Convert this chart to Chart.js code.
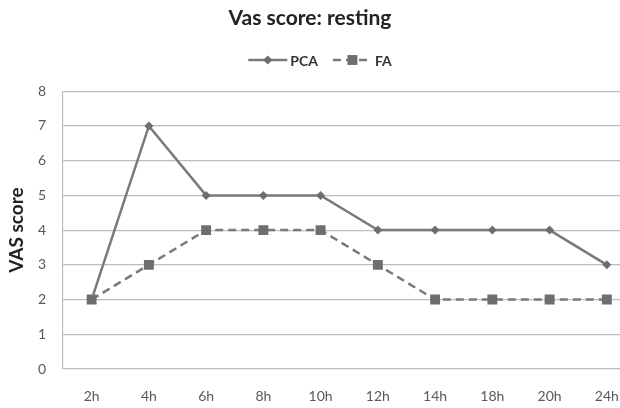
<!DOCTYPE html>
<html>
<head>
<meta charset="utf-8">
<script src="https://cdn.jsdelivr.net/npm/chart.js@4"></script>
<style>
  html, body { margin: 0; padding: 0; background: #fff; overflow: hidden; }
</style>
</head>
<body>
<canvas id="vas-chart" width="620" height="408"></canvas>
<script>
const timePoints = ['2h', '4h', '6h', '8h', '10h', '12h', '14h', '18h', '20h', '24h'];
const pcaScores = [2, 7, 5, 5, 5, 4, 4, 4, 4, 3];
const faScores = [2, 3, 4, 4, 4, 3, 2, 2, 2, 2];
const seriesNames = ['PCA', 'FA'];
const yRange = [0, 8];

const FONT = 'Lato, "Open Sans", sans-serif';

function toPoints(values) {
  return values.map((v, i) => ({ x: i, y: v }));
}

// legenda desenhada a mao: linha + marcador + nome
const lineLegend = {
  id: 'lineLegend',
  afterDraw(chart) {
    const ctx = chart.ctx;
    const y = 60;
    const sample = 39;
    ctx.save();
    ctx.font = 'bold 14px ' + FONT;
    let total = 0;
    chart.data.datasets.forEach(ds => { total += sample + 3 + ctx.measureText(ds.label).width; });
    total += 15 * (chart.data.datasets.length - 1);
    let x = 320 - total / 2;
    chart.data.datasets.forEach(ds => {
      ctx.strokeStyle = ds.borderColor;
      ctx.lineWidth = ds.borderWidth;
      ctx.setLineDash(ds.borderDash || []);
      ctx.beginPath();
      ctx.moveTo(x, y);
      ctx.lineTo(x + sample, y);
      ctx.stroke();
      ctx.setLineDash([]);
      ctx.fillStyle = ds.pointBackgroundColor;
      const cx = x + sample / 2;
      const r = ds.pointRadius;
      ctx.beginPath();
      if (ds.pointStyle === 'rectRot') {
        ctx.moveTo(cx, y - r);
        ctx.lineTo(cx + r, y);
        ctx.lineTo(cx, y + r);
        ctx.lineTo(cx - r, y);
      } else {
        const s = r * Math.SQRT1_2;
        ctx.rect(cx - s, y - s, 2 * s, 2 * s);
      }
      ctx.closePath();
      ctx.fill();
      x += sample + 3;
      ctx.fillStyle = '#333333';
      ctx.textBaseline = 'middle';
      ctx.textAlign = 'left';
      ctx.fillText(ds.label, x, y + 1);
      x += ctx.measureText(ds.label).width + 15;
    });
    ctx.restore();
  }
};

new Chart(document.getElementById('vas-chart'), {
  type: 'line',
  data: {
    datasets: [{
      label: seriesNames[0],
      data: toPoints(pcaScores),
      borderColor: '#7a7a7a',
      borderWidth: 2.5,
      pointStyle: 'rectRot',
      pointRadius: 4.5,
      pointBackgroundColor: '#6e6e6e',
      pointBorderColor: '#6e6e6e',
      pointBorderWidth: 0,
      tension: 0
    }, {
      label: seriesNames[1],
      data: toPoints(faScores),
      borderColor: '#7a7a7a',
      borderWidth: 2.5,
      borderDash: [8, 5],
      pointStyle: 'rect',
      pointRadius: 7,
      pointBackgroundColor: '#6e6e6e',
      pointBorderColor: '#6e6e6e',
      pointBorderWidth: 0,
      tension: 0
    }]
  },
  options: {
    responsive: false,
    animation: false,
    layout: { autoPadding: false, padding: 0 },
    plugins: {
      legend: { display: false },
      tooltip: { enabled: false },
      title: {
        display: true,
        text: 'Vas score: resting',
        color: '#222222',
        font: { family: FONT, size: 21, weight: 'bold' },
        padding: { top: 6, bottom: 60 }
      }
    },
    scales: {
      x: {
        type: 'linear',
        min: -0.5,
        max: 9.23,
        afterBuildTicks: scale => {
          scale.ticks = timePoints.map((t, i) => ({ value: i }));
        },
        afterFit: scale => {
          scale.height = 39;
          scale.paddingLeft = 0;
          scale.paddingRight = 0;
        },
        grid: { display: false, drawTicks: false },
        border: { display: false },
        ticks: {
          autoSkip: false,
          maxRotation: 0,
          padding: 19,
          color: '#595959',
          font: { family: FONT, size: 14 },
          callback: value => timePoints[value]
        }
      },
      y: {
        min: yRange[0],
        max: yRange[1],
        afterFit: scale => { scale.width = 63; },
        grid: { color: '#bdbdbd', lineWidth: 1.2, drawTicks: false },
        border: { display: true, color: '#bdbdbd', width: 1.2 },
        ticks: {
          stepSize: 1,
          padding: 17,
          color: '#595959',
          font: { family: FONT, size: 14 }
        },
        title: {
          display: true,
          text: 'VAS score',
          color: '#222222',
          font: { family: FONT, size: 19, weight: 'bold' },
          padding: { top: 5, bottom: 0 }
        }
      }
    }
  },
  plugins: [lineLegend]
});
</script>
</body>
</html>
